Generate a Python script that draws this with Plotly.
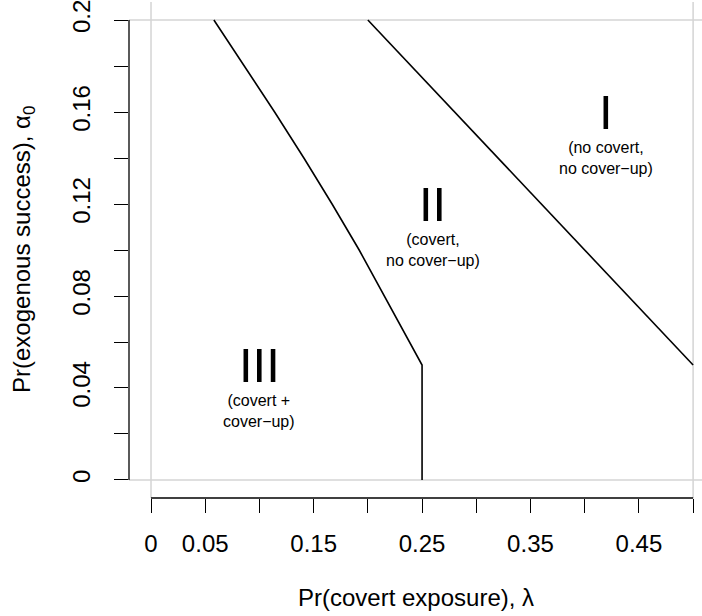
import plotly.graph_objects as go

# ---- data ----
# boundary between regions I and II (straight line)
b1_lambda = [0.20, 0.50]
b1_alpha = [0.20, 0.05]

# boundary between regions II and III (curve + vertical segment)
b2_lambda = [0.058, 0.086, 0.114, 0.141, 0.167, 0.192, 0.215, 0.238, 0.25, 0.25]
b2_alpha = [0.20, 0.18, 0.16, 0.14, 0.12, 0.10, 0.08, 0.06, 0.05, 0.0]

x_tickvals = [0, 0.05, 0.10, 0.15, 0.20, 0.25, 0.30, 0.35, 0.40, 0.45, 0.50]
x_ticktext = ["0", "0.05", "", "0.15", "", "0.25", "", "0.35", "", "0.45", ""]
y_tickvals = [0, 0.02, 0.04, 0.06, 0.08, 0.10, 0.12, 0.14, 0.16, 0.18, 0.20]
y_ticktext = ["0", "", "0.04", "", "0.08", "", "0.12", "", "0.16", "", "0.2"]

region_names = ["I", "II", "III"]
region_desc = ["(no covert,<br>no cover\u2212up)", "(covert,<br>no cover\u2212up)", "(covert +<br>cover\u2212up)"]
region_x = [0.42, 0.26, 0.10]
region_y = [0.16, 0.12, 0.05]
desc_y = [0.14, 0.10, 0.03]

FONT = "Liberation Sans, Arial, Helvetica, sans-serif"

fig = go.Figure()
fig.add_trace(go.Scatter(x=b1_lambda, y=b1_alpha, mode="lines",
                         line=dict(color="black", width=1.6), showlegend=False, hoverinfo="skip"))
fig.add_trace(go.Scatter(x=b2_lambda, y=b2_alpha, mode="lines",
                         line=dict(color="black", width=1.6), showlegend=False, hoverinfo="skip"))

shapes = []
gray = "#d4d4d4"
for xv in [min(x_tickvals), max(x_tickvals)]:
    shapes.append(dict(type="line", xref="x", yref="paper", x0=xv, x1=xv, y0=0, y1=1,
                       line=dict(color=gray, width=1.5), layer="below"))
for yv in [min(y_tickvals), max(y_tickvals)]:
    shapes.append(dict(type="line", xref="paper", yref="y", x0=0, x1=1, y0=yv, y1=yv,
                       line=dict(color=gray, width=1.5), layer="below"))
# R-style axis lines spanning first to last tick
shapes.append(dict(type="line", xref="x", yref="paper", x0=min(x_tickvals), x1=max(x_tickvals),
                   y0=0, y1=0, line=dict(color="black", width=1.3)))
shapes.append(dict(type="line", xref="paper", yref="y", x0=0, x1=0,
                   y0=min(y_tickvals), y1=max(y_tickvals), line=dict(color="black", width=1.3)))

annotations = []
for name, desc, rx, ry, dy in zip(region_names, region_desc, region_x, region_y, desc_y):
    annotations.append(dict(x=rx, y=ry, text=name, showarrow=False, xref="x", yref="y",
                            font=dict(family=FONT, size=49, color="black"),
                            xanchor="center", yanchor="middle"))
    annotations.append(dict(x=rx, y=dy, text=desc, showarrow=False, xref="x", yref="y",
                            font=dict(family=FONT, size=16, color="black"),
                            xanchor="center", yanchor="middle"))

annotations.append(dict(x=0.5, y=0, xref="paper", yref="paper", yshift=-99,
                        text="Pr(covert exposure), \u03bb", showarrow=False,
                        font=dict(family=FONT, size=24, color="black"),
                        xanchor="center", yanchor="middle"))
annotations.append(dict(x=0, y=0.5, xref="paper", yref="paper", xshift=-106,
                        text="Pr(exogenous success), \u03b1<sub>0</sub>", showarrow=False,
                        textangle=-90,
                        font=dict(family=FONT, size=24, color="black"),
                        xanchor="center", yanchor="middle"))

fig.update_layout(
    width=702, height=616,
    margin=dict(l=129, r=0, t=2, b=118, autoexpand=False),
    paper_bgcolor="white", plot_bgcolor="white",
    font=dict(family=FONT, size=24, color="black"),
    shapes=shapes, annotations=annotations,
    showlegend=False,
)
fig.update_xaxes(range=[-0.0203, 0.5082], tickvals=x_tickvals, ticktext=x_ticktext,
                 ticks="outside", ticklen=14, tickwidth=1.3, tickcolor="black",
                 showgrid=False, zeroline=False, showline=False, automargin=False,
                 ticklabeloverflow="allow",
                 tickfont=dict(family=FONT, size=24, color="black"), ticklabelstandoff=10)
fig.update_yaxes(range=[-0.00783, 0.20783], tickvals=y_tickvals, ticktext=y_ticktext,
                 ticks="outside", ticklen=14, tickwidth=1.3, tickcolor="black",
                 showgrid=False, zeroline=False, showline=False, tickangle=-90,
                 automargin=False, ticklabeloverflow="allow",
                 tickfont=dict(family=FONT, size=24, color="black"), ticklabelstandoff=14)

fig.write_html("out.html", config={"displayModeBar": False},
               post_script="document.body.style.margin='0';document.body.style.padding='0';")
